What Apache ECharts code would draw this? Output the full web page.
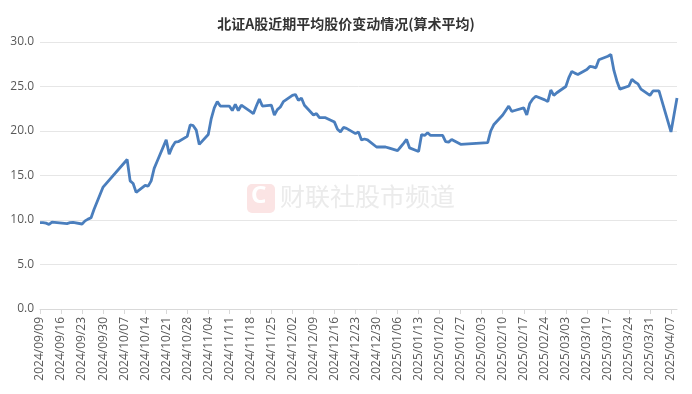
<!DOCTYPE html>
<html>
<head>
<meta charset="utf-8">
<script src="https://cdn.jsdelivr.net/npm/echarts@6/dist/echarts.min.js"></script>
<style>html,body{margin:0;padding:0;background:#fff}#c{width:692px;height:394px}</style>
</head>
<body>
<div id="c"></div>
<script>
var titleText = '北证A股近期平均股价变动情况(算术平均)';
var watermarkText = '财联社股市频道';
var axisStart = '2024/09/09';
var axisEnd = '2025/04/09';
var yTicks = [0, 5, 10, 15, 20, 25, 30];

var tradeDates = [
 '2024/09/09','2024/09/10','2024/09/11','2024/09/12','2024/09/13',
 '2024/09/18','2024/09/19','2024/09/20',
 '2024/09/23','2024/09/24','2024/09/25','2024/09/26','2024/09/27',
 '2024/09/30',
 '2024/10/08','2024/10/09','2024/10/10','2024/10/11',
 '2024/10/14','2024/10/15','2024/10/16','2024/10/17','2024/10/18',
 '2024/10/21','2024/10/22','2024/10/23','2024/10/24','2024/10/25',
 '2024/10/28','2024/10/29','2024/10/30','2024/10/31','2024/11/01',
 '2024/11/04','2024/11/05','2024/11/06','2024/11/07','2024/11/08',
 '2024/11/11','2024/11/12','2024/11/13','2024/11/14','2024/11/15',
 '2024/11/18','2024/11/19','2024/11/20','2024/11/21','2024/11/22',
 '2024/11/25','2024/11/26','2024/11/27','2024/11/28','2024/11/29',
 '2024/12/02','2024/12/03','2024/12/04','2024/12/05','2024/12/06',
 '2024/12/09','2024/12/10','2024/12/11','2024/12/12','2024/12/13',
 '2024/12/16','2024/12/17','2024/12/18','2024/12/19','2024/12/20',
 '2024/12/23','2024/12/24','2024/12/25','2024/12/26','2024/12/27',
 '2024/12/30','2024/12/31','2025/01/02','2025/01/03',
 '2025/01/06','2025/01/07','2025/01/08','2025/01/09','2025/01/10',
 '2025/01/13','2025/01/14','2025/01/15','2025/01/16','2025/01/17',
 '2025/01/20','2025/01/21','2025/01/22','2025/01/23','2025/01/24',
 '2025/01/27',
 '2025/02/05','2025/02/06','2025/02/07',
 '2025/02/10','2025/02/11','2025/02/12','2025/02/13','2025/02/14',
 '2025/02/17','2025/02/18','2025/02/19','2025/02/20','2025/02/21',
 '2025/02/24','2025/02/25','2025/02/26','2025/02/27','2025/02/28',
 '2025/03/03','2025/03/04','2025/03/05','2025/03/06','2025/03/07',
 '2025/03/10','2025/03/11','2025/03/12','2025/03/13','2025/03/14',
 '2025/03/17','2025/03/18','2025/03/19','2025/03/20','2025/03/21',
 '2025/03/24','2025/03/25','2025/03/26','2025/03/27','2025/03/28',
 '2025/03/31','2025/04/01','2025/04/02','2025/04/03',
 '2025/04/07','2025/04/08','2025/04/09'
];

var avgPrice = [
 9.70, 9.70, 9.65, 9.50, 9.75,
 9.60, 9.70, 9.72,
 9.55, 9.90, 10.10, 10.25, 11.20,
 13.70,
 16.80, 14.40, 14.10, 13.10,
 13.90, 13.80, 14.40, 15.80, 16.60,
 19.00, 17.40, 18.20, 18.75, 18.80,
 19.40, 20.70, 20.60, 20.10, 18.50,
 19.60, 21.40, 22.60, 23.30, 22.80,
 22.80, 22.30, 23.00, 22.30, 22.90,
 22.20, 21.95, 22.80, 23.60, 22.80,
 22.90, 21.80, 22.40, 22.70, 23.30,
 24.00, 24.10, 23.45, 23.70, 22.90,
 21.80, 21.95, 21.50, 21.50, 21.50,
 21.00, 20.20, 19.90, 20.40, 20.30,
 19.70, 19.90, 19.00, 19.10, 19.00,
 18.20, 18.20, 18.20, 18.10,
 17.80, 18.20, 18.60, 19.05, 18.10,
 17.70, 19.60, 19.50, 19.80, 19.50,
 19.50, 19.50, 18.80, 18.75, 19.05,
 18.50,
 18.70, 20.00, 20.70,
 21.80, 22.30, 22.80, 22.20, 22.30,
 22.60, 21.80, 23.10, 23.60, 23.90,
 23.50, 23.30, 24.60, 24.00, 24.30,
 25.00, 26.00, 26.70, 26.50, 26.35,
 26.90, 27.25, 27.20, 27.10, 28.00,
 28.40, 28.60, 26.80, 25.60, 24.70,
 25.06, 25.80, 25.50, 25.30, 24.70,
 24.00, 24.50, 24.50, 24.50,
 19.90, 21.80, 23.70
];

function fmt(d) {
  var m = d.getMonth() + 1, day = d.getDate();
  return d.getFullYear() + '/' + (m < 10 ? '0' : '') + m + '/' + (day < 10 ? '0' : '') + day;
}
var calendar = [];
(function () {
  var p = axisStart.split('/'), q = axisEnd.split('/');
  var d = new Date(+p[0], +p[1] - 1, +p[2]);
  var e = new Date(+q[0], +q[1] - 1, +q[2]);
  while (d <= e) { calendar.push(fmt(d)); d.setDate(d.getDate() + 1); }
})();
var lookup = {};
tradeDates.forEach(function (t, i) { lookup[t] = avgPrice[i]; });
var seriesData = calendar.map(function (c) { return lookup.hasOwnProperty(c) ? lookup[c] : null; });

var chart = echarts.init(document.getElementById('c'), null, { renderer: 'canvas' });
chart.setOption({
  animation: false,
  backgroundColor: '#ffffff',
  title: {
    text: titleText,
    left: 'center',
    top: 12,
    textStyle: { fontFamily: 'Noto Sans CJK SC', fontSize: 14, fontWeight: 'bold', color: '#333333' }
  },
  graphic: [
    { type: 'rect', left: 247, top: 184, shape: { width: 28, height: 29, r: 5 }, style: { fill: '#fbe4e4' }, z: 0 },
    { type: 'text', left: 251, top: 184, style: { text: 'C', fill: '#ffffff', font: 'bold 24px "Noto Sans"' }, z: 1 },
    { type: 'text', left: 280, top: 184, style: { text: watermarkText, fill: '#ebebeb', font: '25px "Noto Sans CJK SC"' }, z: 0 }
  ],
  grid: { left: 40, right: 15, top: 42, bottom: 85, containLabel: false },
  xAxis: {
    type: 'category',
    data: calendar,
    boundaryGap: false,
    axisLine: { lineStyle: { color: '#d9d9d9' } },
    axisTick: { show: true, interval: 6, length: 5, lineStyle: { color: '#d9d9d9' } },
    axisLabel: { interval: 6, rotate: 90, color: '#595959', fontSize: 12, fontFamily: 'Open Sans', margin: 8 },
    splitLine: { show: false }
  },
  yAxis: {
    type: 'value',
    min: yTicks[0],
    max: yTicks[yTicks.length - 1],
    interval: 5,
    axisLine: { show: false },
    axisTick: { show: false },
    axisLabel: { color: '#595959', fontSize: 12, fontFamily: 'Open Sans', margin: 6, formatter: function (v) { return v.toFixed(1); } },
    splitLine: { lineStyle: { color: '#e6e6e6' } }
  },
  series: [{
    type: 'line',
    data: seriesData,
    connectNulls: true,
    showSymbol: false,
    symbol: 'none',
    lineStyle: { color: '#4a7ebd', width: 2.8 },
    z: 5
  }]
});
</script>
</body>
</html>
